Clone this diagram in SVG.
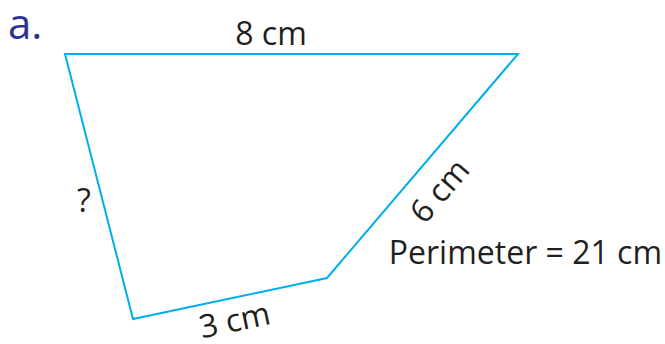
<svg xmlns="http://www.w3.org/2000/svg" width="665" height="344" viewBox="0 0 665 344">
<style>
.t{font-family:"Open Sans","Liberation Sans",sans-serif;fill:#231f20;font-size:32px}
.edge{fill:none;stroke:#00aeef;stroke-width:2;stroke-linejoin:miter}
</style>
<rect width="665" height="344" fill="#fff"/>
<text x="8" y="39" style="font-family:'Open Sans','Liberation Sans',sans-serif;font-size:42px;fill:#2e3192">a.</text>
<g id="connectors">
<polygon class="edge" points="65,54 518,54 327,278 133,319"/>
</g>
<g id="labels">
<text class="t" x="271" y="45" text-anchor="middle">8 cm</text>
<text class="t" x="84" y="212" text-anchor="middle">?</text>
<text class="t" text-anchor="middle" transform="translate(448,198) rotate(-49.5)">6 cm</text>
<text class="t" text-anchor="middle" transform="translate(237,331) rotate(-12)">3 cm</text>
<text class="t" x="662" y="264" text-anchor="end">Perimeter = 21 cm</text>
</g>
</svg>
